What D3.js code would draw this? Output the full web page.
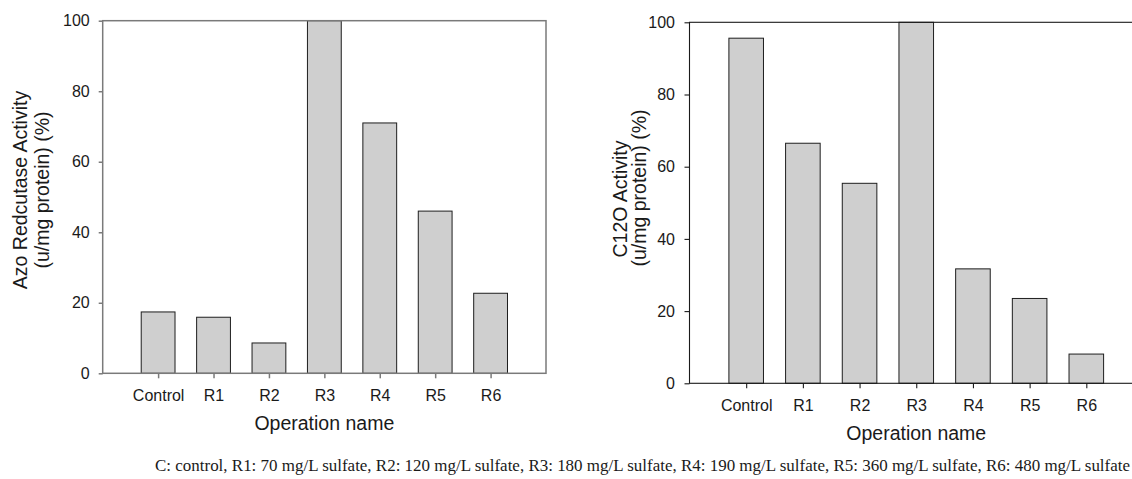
<!DOCTYPE html>
<html>
<head>
<meta charset="utf-8">
<script src="https://cdn.jsdelivr.net/npm/d3@7"></script>
<style>
  html, body { margin: 0; padding: 0; background: #fff; }
  svg { display: block; font-family: "Liberation Sans", Arial, Helvetica, sans-serif; }
</style>
</head>
<body>
<div id="chart"></div>
<script>
"use strict";

// operation names (x categories)
var categories = ["Control", "R1", "R2", "R3", "R4", "R5", "R6"];
// azo reductase activity, % (left panel)
var azoValues = [17.4, 15.9, 8.6, 100, 71.0, 46.0, 22.7];
// C12O activity, % (right panel)
var c12oValues = [95.6, 66.5, 55.4, 100, 31.7, 23.5, 8.1];
var yTicks = [0, 20, 40, 60, 80, 100];
var xTitle = "Operation name";
var captionText = "C: control, R1: 70 mg/L sulfate, R2: 120 mg/L sulfate, R3: 180 mg/L sulfate, R4: 190 mg/L sulfate, R5: 360 mg/L sulfate, R6: 480 mg/L sulfate";

var W = 1132, H = 479;

var svg = d3.select("#chart").append("svg")
  .attr("width", W)
  .attr("height", H);

function drawPanel(p) {
  var x = d3.scalePoint()
    .domain(categories)
    .range([p.left, p.right])
    .padding(1);
  var y = d3.scaleLinear()
    .domain([0, 100])
    .range([p.bottom, p.top]);
  var barW = x.step() * 0.61;

  var g = svg.append("g");

  // bars
  g.append("g")
    .selectAll("rect")
    .data(p.values)
    .join("rect")
    .attr("x", function (d, i) { return x(categories[i]) - barW / 2; })
    .attr("y", function (d) { return y(d); })
    .attr("width", barW)
    .attr("height", function (d) { return y(0) - y(d); })
    .attr("fill", "#cfcfcf")
    .attr("stroke", "#1e1e1e")
    .attr("stroke-width", 1);

  // frame
  g.append("rect")
    .attr("x", p.left)
    .attr("y", p.top)
    .attr("width", p.right - p.left)
    .attr("height", p.bottom - p.top)
    .attr("fill", "none")
    .attr("stroke", p.frameColor)
    .attr("stroke-width", p.frameWidth);

  // y axis
  var ya = g.append("g")
    .attr("transform", "translate(" + p.left + ",0)")
    .call(d3.axisLeft(y).tickValues(yTicks).tickSize(p.yTickSize).tickPadding(p.yTickPad));
  ya.select(".domain").remove();

  // x axis
  var xa = g.append("g")
    .attr("transform", "translate(0," + p.bottom + ")")
    .call(d3.axisBottom(x).tickSize(5).tickSizeOuter(0).tickPadding(11.3));
  xa.select(".domain").remove();

  [ya, xa].forEach(function (a) {
    a.selectAll(".tick line").attr("stroke", p.frameColor).attr("stroke-width", p.frameWidth);
    a.selectAll(".tick text")
      .attr("fill", "#1a1a1a")
      .style("font-size", "16px")
      .style("font-family", "\"Liberation Sans\", Arial, sans-serif");
  });

  // x title
  g.append("text")
    .attr("x", (p.left + p.right) / 2)
    .attr("y", p.bottom + 56.3)
    .attr("text-anchor", "middle")
    .attr("fill", "#1a1a1a")
    .style("font-size", "19.5px")
    .text(xTitle);

  // y title (two lines)
  p.yTitle.forEach(function (line) {
    g.append("text")
      .attr("transform", "translate(" + line.x + "," + line.cy + ") rotate(-90)")
      .attr("text-anchor", "middle")
      .attr("fill", "#1a1a1a")
      .style("font-size", "19.5px")
      .text(line.text);
  });
}

drawPanel({
  values: azoValues,
  left: 102.7, right: 546, top: 20.7, bottom: 373.3,
  frameColor: "#7a7a7a", frameWidth: 1.5,
  yTickSize: 4, yTickPad: 9,
  yTitle: [
    { text: "Azo Redcutase Activity", x: 26.7, cy: 190 },
    { text: "(u/mg protein) (%)", x: 49, cy: 190 }
  ]
});

drawPanel({
  values: c12oValues,
  left: 689.5, right: 1143, top: 22.3, bottom: 383.3,
  frameColor: "#1a1a1a", frameWidth: 1.1,
  yTickSize: 5, yTickPad: 9.5,
  yTitle: [
    { text: "C12O Activity", x: 626.7, cy: 199 },
    { text: "(u/mg protein) (%)", x: 645.5, cy: 188 }
  ]
});

// caption
svg.append("text")
  .attr("x", 155)
  .attr("y", 471)
  .attr("textLength", 975)
  .attr("lengthAdjust", "spacingAndGlyphs")
  .attr("fill", "#1a1a1a")
  .style("font-family", "\"Liberation Serif\", \"Times New Roman\", serif")
  .style("font-size", "17px")
  .text(captionText);
</script>
</body>
</html>
